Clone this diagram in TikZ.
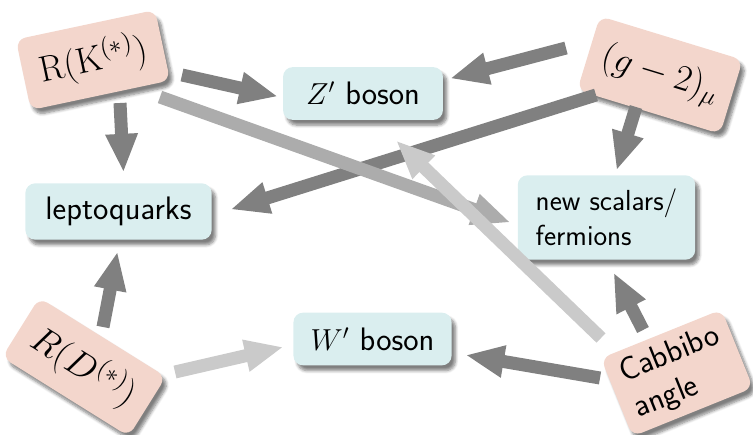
\documentclass[tikz,border=0pt]{standalone}
\usetikzlibrary{arrows.meta,calc,shadows.blur}
\definecolor{pinkbox}{RGB}{243,214,204}
\definecolor{bluebox}{RGB}{218,238,239}
\definecolor{darkarr}{RGB}{128,128,128}
\definecolor{medarr}{RGB}{172,172,172}
\definecolor{lightarr}{RGB}{202,202,202}
\tikzset{
 basebox/.style={rounded corners=5.5pt, inner sep=0pt, align=left,
   blur shadow={shadow xshift=2.2pt, shadow yshift=-3pt, shadow blur steps=6, shadow opacity=50}},
 srcbox/.style={basebox, fill=pinkbox, font=\fontsize{20}{24}\selectfont},
 tgtbox/.style={basebox, fill=bluebox, font=\sffamily\fontsize{18.5}{22}\selectfont},
 arr/.style={line width=7.4pt, -{Triangle[length=22pt,width=17pt]}},
}
\begin{document}
\begin{tikzpicture}[x=0.02cm,y=0.02cm]
\path[use as bounding box] (0,0) rectangle (753,-435);
% source boxes (rotated)
\node[srcbox, minimum width=81pt, minimum height=41pt, rotate=12] (rk) at (93,-60) {$\mathrm{R}(\mathrm{K}^{(*)})$};
\node[srcbox, minimum width=85pt, minimum height=44pt, rotate=-17] (gm) at (660,-75) {$(g-2)_\mu$};
\node[srcbox, minimum width=85pt, minimum height=40pt, rotate=-32] (rd) at (84,-367) {$R(D^{(*)})$};
\node[srcbox, minimum width=74pt, minimum height=48pt, font=\sffamily\fontsize{18.5}{22}\selectfont, rotate=22] (ca) at (677,-373) {Cabbibo\\angle};
% target boxes
\node[tgtbox, minimum width=91pt, minimum height=30pt] (zb) at (363,-93.5) {$Z'$ boson};
\node[tgtbox, minimum width=106pt, minimum height=32pt] (lq) at (118.5,-211.5) {leptoquarks};
\node[tgtbox, minimum width=101pt, minimum height=48pt, font=\sffamily\fontsize{16.5}{20}\selectfont] (ns) at (606.5,-217.5) {new scalars/\\fermions};
\node[tgtbox, minimum width=90pt, minimum height=30pt] (wb) at (372.5,-339) {$W'$ boson};
% dark arrows
\draw[arr, darkarr] ($(rk.center)+(89,-15)$) -- ($(zb.center)+(-85,-3)$);
\draw[arr, darkarr] ($(rk.center)+(27,-43)$) -- ($(lq.center)+(5,39)$);
\draw[arr, darkarr] ($(gm.center)+(-94,27)$) -- ($(zb.center)+(87,15)$);
\draw[arr, darkarr] ($(gm.center)+(-64,-20)$) -- ($(lq.center)+(112,2)$);
\draw[arr, darkarr] ($(gm.center)+(-24,-32)$) -- ($(ns.center)+(10,47)$);
\draw[arr, darkarr] ($(rd.center)+(19,40)$) -- ($(lq.center)+(-1,-40)$);
\draw[arr, darkarr] ($(ca.center)+(-77,-5)$) -- ($(wb.center)+(93,-16)$);
\draw[arr, darkarr] ($(ca.center)+(-34,43)$) -- ($(ns.center)+(7,-55)$);
% medium arrow
\draw[arr, medarr] ($(rk.center)+(67,-37)$) -- ($(ns.center)+(-96,-5)$);
% light arrows
\draw[arr, lightarr] ($(rd.center)+(91,-5)$) -- ($(wb.center)+(-89,-8)$);
\draw[arr, lightarr] ($(ca.center)+(-76,35)$) -- ($(zb.center)+(33,-47)$);
\end{tikzpicture}
\end{document}
